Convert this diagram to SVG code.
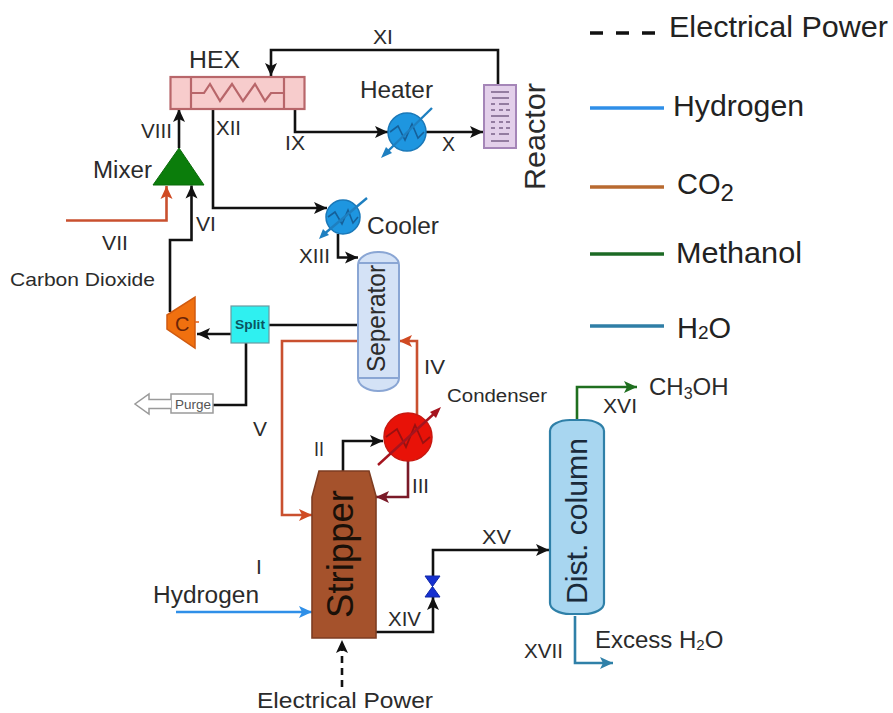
<svg xmlns="http://www.w3.org/2000/svg" width="893" height="713" viewBox="0 0 893 713">
<defs>
<style>
text{font-family:"Liberation Sans",Arial,sans-serif;fill:#2b2b2b}
.c{fill:none;stroke-width:2.6;stroke-linejoin:miter}
.k{stroke:#111}.r{stroke:#c9502f}.h{stroke:#2f8fe8}.g{stroke:#1f6f1f}.b{stroke:#2f80a8}.d{stroke:#7a1a28}
.l{font-size:23px}.s{font-size:21px}
.lg{font-size:29px;fill:#222}
.z{fill:none;stroke:#15609a;stroke-width:1.600}
</style>
<marker id="ak" markerUnits="userSpaceOnUse" markerWidth="15" markerHeight="15" refX="13" refY="7.500" orient="auto"><path d="M0,1.500 L13,7.500 L0,13.500 L3,7.500Z" fill="#111"/></marker>
<marker id="ar" markerUnits="userSpaceOnUse" markerWidth="15" markerHeight="15" refX="13" refY="7.500" orient="auto"><path d="M0,1.500 L13,7.500 L0,13.500 L3,7.500Z" fill="#d04a22"/></marker>
<marker id="ah" markerUnits="userSpaceOnUse" markerWidth="15" markerHeight="15" refX="13" refY="7.500" orient="auto"><path d="M0,1.500 L13,7.500 L0,13.500 L3,7.500Z" fill="#2f8fe8"/></marker>
<marker id="ag" markerUnits="userSpaceOnUse" markerWidth="15" markerHeight="15" refX="13" refY="7.500" orient="auto"><path d="M0,1.500 L13,7.500 L0,13.500 L3,7.500Z" fill="#1f6f1f"/></marker>
<marker id="ab" markerUnits="userSpaceOnUse" markerWidth="15" markerHeight="15" refX="13" refY="7.500" orient="auto"><path d="M0,1.500 L13,7.500 L0,13.500 L3,7.500Z" fill="#2f80a8"/></marker>
<marker id="ad" markerUnits="userSpaceOnUse" markerWidth="15" markerHeight="15" refX="13" refY="7.500" orient="auto"><path d="M0,1.500 L13,7.500 L0,13.500 L3,7.500Z" fill="#7a1a28"/></marker>
</defs>
<rect width="893" height="713" fill="#fff"/>
<g id="connectors">
<path class="c k" d="M498,85V50H271V76" marker-end="url(#ak)"/>
<path class="c k" d="M179,148V109" marker-end="url(#ak)"/>
<path class="c k" d="M170,312V240H191.500V185.500" marker-end="url(#ak)"/>
<path class="c r" d="M66,220.500H166.500V186" marker-end="url(#ar)"/>
<path class="c k" d="M213,109V208H327" marker-end="url(#ak)"/>
<path class="c k" d="M295,109V132H388" marker-end="url(#ak)"/>
<path class="c k" d="M426,132H483" marker-end="url(#ak)"/>
<path class="c k" d="M338,234V257.500H358" marker-end="url(#ak)"/>
<path class="c k" d="M358,325H269"/>
<path class="c k" d="M231,334H197" marker-end="url(#ak)"/>
<path class="c k" d="M246,343V405H213"/>
<path class="c r" d="M358,341H282V515H312" marker-end="url(#ar)"/>
<path class="c k" d="M343,471V441H383" marker-end="url(#ak)"/>
<path class="c d" d="M408,460V497H376" marker-end="url(#ad)"/>
<path class="c r" d="M417,414V341H399" marker-end="url(#ar)"/>
<path class="c h" d="M176,612H312" marker-end="url(#ah)"/>
<path class="c k" d="M376,632H433V597" marker-end="url(#ak)"/>
<path class="c k" d="M433,576V550H549" marker-end="url(#ak)"/>
<path class="c g" d="M577,420V387H637" marker-end="url(#ag)"/>
<path class="c b" d="M575,616V663H613" marker-end="url(#ab)"/>
<path class="c k" d="M342,687V640" stroke-dasharray="7 5" marker-end="url(#ak)"/>
</g>
<g id="hex">
<rect x="170.500" y="77" width="134" height="32" fill="#f7cccc" stroke="#b8666a" stroke-width="2.200"/>
<path d="M191,77V109M284,77V109" stroke="#b8666a" stroke-width="2.200" fill="none"/>
<path d="M191,93H204L210,84 220,101 232,84 243,101 255,84 265,101 271,93H284" fill="none" stroke="#b8666a" stroke-width="2.200"/>
<text class="l" x="189" y="68" textLength="51" lengthAdjust="spacingAndGlyphs">HEX</text>
</g>
<g id="mixer">
<polygon points="179,148 204,185 153,185" fill="#0b7d0b" stroke="#0b6a0b"/>
<text class="l" x="93" y="178" textLength="59" lengthAdjust="spacingAndGlyphs">Mixer</text>
</g>
<g id="heater">
<circle cx="407" cy="132" r="19" fill="#1e96e0" stroke="#1a78b8" stroke-width="1.500"/>
<path class="z" d="M390,132L398,126 405,140 412,124 418,138 424,132"/>
<path d="M432,108L385,154" stroke="#1e7fc0" stroke-width="2.400" fill="none"/>
<path d="M381,158L386,147 392,153Z" fill="#1e7fc0"/>
<text x="360" y="98" font-size="24" textLength="73" lengthAdjust="spacingAndGlyphs">Heater</text>
</g>
<g id="reactor">
<rect x="484" y="85" width="32" height="63" fill="#e3d0ea" stroke="#a586b8" stroke-width="2"/>
<path d="M491,92H509M492,98H509M491,104H495M499,104H509M491,110H495M499,110H503M506,110H510M491,116H509M491,122H495M499,122H503M506,122H510M491,128H495M499,128H503M506,128H510M491,134H495M499,134H509M491,141H509" stroke="#7a6088" stroke-width="1.600" fill="none"/>
<text x="545" y="190" font-size="29" transform="rotate(-90 545 190)" textLength="107" lengthAdjust="spacingAndGlyphs">Reactor</text>
</g>
<g id="cooler">
<circle cx="343" cy="217" r="17" fill="#1e96e0" stroke="#1a78b8" stroke-width="1.500"/>
<path class="z" d="M328,217L335,212 342,224 348,210 353,223 358,217"/>
<path d="M367,198L323,235" stroke="#1e7fc0" stroke-width="2.400" fill="none"/>
<path d="M319,239L323,229 329,235Z" fill="#1e7fc0"/>
<text x="367" y="234" font-size="23" textLength="72" lengthAdjust="spacingAndGlyphs">Cooler</text>
</g>
<g id="separator">
<rect x="358" y="252" width="41" height="139" rx="20" ry="13" fill="#d4e2f6" stroke="#8aa6d4" stroke-width="2"/>
<path d="M359,263H398M359,378H398" stroke="#8aa6d4" stroke-width="2" fill="none"/>
<text x="385" y="372" font-size="25" transform="rotate(-90 385 372)" textLength="107" lengthAdjust="spacingAndGlyphs">Seperator</text>
</g>
<g id="split">
<rect x="231" y="306" width="38" height="37" fill="#2ff0f0" stroke="#6a9aa0" stroke-width="1.200"/>
<text x="235" y="329" font-size="13" font-weight="bold" style="fill:#0a5560" textLength="30" lengthAdjust="spacingAndGlyphs">Split</text>
</g>
<g id="compressor">
<polygon points="167,315 195,297 195,348 167,329" fill="#f0700f" stroke="#d05a10" stroke-width="1.500"/>
<path d="M195,322H199" stroke="#e0601a" stroke-width="1.500"/>
<text x="175" y="331" font-size="20" style="fill:#6a2408">C</text>
</g>
<g id="purge">
<rect x="171" y="394" width="42" height="19" fill="#fff" stroke="#9a9a9a" stroke-width="1.500"/>
<path d="M171,399.500H149V394L135,404 149,414V408.500H171" fill="#fff" stroke="#9a9a9a" stroke-width="1.500"/>
<text x="175" y="409" font-size="13" style="fill:#555" textLength="36" lengthAdjust="spacingAndGlyphs">Purge</text>
</g>
<g id="condenser">
<circle cx="408" cy="437" r="24" fill="#e81208" stroke="#c81810" stroke-width="1.500"/>
<path d="M386,437L397,429 406,447 415,425 423,443 430,437" fill="none" stroke="#9a1010" stroke-width="1.800"/>
<path d="M378,465L437,411" stroke="#a5141e" stroke-width="2.400" fill="none"/>
<path d="M441,407L436,418 430,412Z" fill="#a5141e"/>
<text x="447" y="402" font-size="18" textLength="100" lengthAdjust="spacingAndGlyphs">Condenser</text>
</g>
<g id="stripper">
<polygon points="319,471 369,471 376,496 376,638 312,638 312,497" fill="#a5522c" stroke="#7e3d22" stroke-width="1.600"/>
<text x="353" y="618" font-size="37" style="fill:#1a1008" transform="rotate(-90 353 618)" textLength="128" lengthAdjust="spacingAndGlyphs">Stripper</text>
</g>
<g id="valve">
<polygon points="425,576 440,576 425,597 440,597" fill="#1530d0" stroke="#1028a8"/>
</g>
<g id="column">
<rect x="550" y="420" width="54" height="194" rx="20" ry="11" fill="#a8d6f0" stroke="#2f80a8" stroke-width="2.200"/>
<text x="587" y="604" font-size="30" style="fill:#1a2a3a" transform="rotate(-90 587 604)" textLength="166" lengthAdjust="spacingAndGlyphs">Dist. column</text>
</g>
<g id="labels">
<text class="s" x="373" y="44" textLength="20" lengthAdjust="spacingAndGlyphs">XI</text>
<text class="s" x="285" y="150" textLength="20" lengthAdjust="spacingAndGlyphs">IX</text>
<text class="s" x="442" y="151" textLength="13" lengthAdjust="spacingAndGlyphs">X</text>
<text class="s" x="141" y="138" textLength="31" lengthAdjust="spacingAndGlyphs">VIII</text>
<text class="s" x="216" y="135" textLength="25" lengthAdjust="spacingAndGlyphs">XII</text>
<text class="s" x="196" y="231" textLength="20" lengthAdjust="spacingAndGlyphs">VI</text>
<text class="s" x="102" y="250" textLength="26" lengthAdjust="spacingAndGlyphs">VII</text>
<text font-size="19" x="10" y="286" textLength="145" lengthAdjust="spacingAndGlyphs">Carbon Dioxide</text>
<text class="s" x="299" y="263" textLength="31" lengthAdjust="spacingAndGlyphs">XIII</text>
<text class="s" x="253" y="436" textLength="14" lengthAdjust="spacingAndGlyphs">V</text>
<text class="s" x="424" y="374" textLength="21" lengthAdjust="spacingAndGlyphs">IV</text>
<text class="s" x="314" y="456" textLength="10" lengthAdjust="spacingAndGlyphs">II</text>
<text class="s" x="412" y="493" textLength="17" lengthAdjust="spacingAndGlyphs">III</text>
<text class="s" x="256" y="574">I</text>
<text class="l" x="153" y="603" textLength="106" lengthAdjust="spacingAndGlyphs">Hydrogen</text>
<text class="s" x="388" y="626" textLength="33" lengthAdjust="spacingAndGlyphs">XIV</text>
<text class="s" x="482" y="544" textLength="29" lengthAdjust="spacingAndGlyphs">XV</text>
<text class="s" x="603" y="413" textLength="34" lengthAdjust="spacingAndGlyphs">XVI</text>
<text class="s" x="524" y="658" textLength="39" lengthAdjust="spacingAndGlyphs">XVII</text>
<text font-size="24" x="649" y="395">CH<tspan font-size="16" dy="4">3</tspan><tspan dy="-4">OH</tspan></text>
<text font-size="24" x="595" y="648">Excess H<tspan font-size="15" dy="2">2</tspan><tspan dy="-2">O</tspan></text>
<text font-size="22" x="257" y="708" textLength="176" lengthAdjust="spacingAndGlyphs">Electrical Power</text>
</g>
<g id="legend">
<path d="M590,33H655" stroke="#111" stroke-width="3.400" stroke-dasharray="13 13" fill="none"/>
<path d="M590,108H664" stroke="#2f8fe8" stroke-width="3.400"/>
<path d="M590,187H664" stroke="#b86a30" stroke-width="3.400"/>
<path d="M590,254H664" stroke="#1c6a24" stroke-width="3.400"/>
<path d="M590,326H664" stroke="#2f7ea6" stroke-width="3.400"/>
<text class="lg" x="669" y="37" textLength="219" lengthAdjust="spacingAndGlyphs">Electrical Power</text>
<text class="lg" x="673" y="116" textLength="131" lengthAdjust="spacingAndGlyphs">Hydrogen</text>
<text class="lg" x="677" y="194">CO<tspan font-size="24" dy="7">2</tspan></text>
<text class="lg" x="676" y="263" textLength="126" lengthAdjust="spacingAndGlyphs">Methanol</text>
<text class="lg" x="677" y="338">H<tspan font-size="19" dy="1">2</tspan><tspan dy="-1">O</tspan></text>
</g>
</svg>
